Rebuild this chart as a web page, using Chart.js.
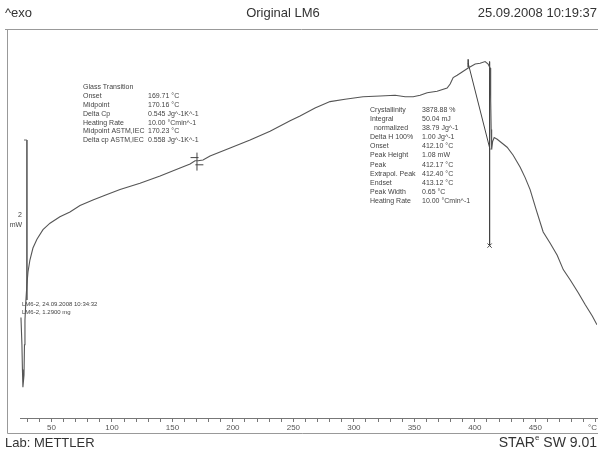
<!DOCTYPE html>
<html>
<head>
<meta charset="utf-8">
<script src="https://cdn.jsdelivr.net/npm/chart.js@4.4.0/dist/chart.umd.min.js"></script>
<style>
  body { margin: 0; background: #fff; }
  #wrap { width: 598px; height: 450px; }
</style>
</head>
<body>
<div id="wrap"><canvas id="myChart" width="598" height="450"></canvas></div>
<script>
// DSC curve: temperature (°C) and heat flow (mW, exo up)
const temps = [24.8, 25.6, 26.0, 26.4, 27.3, 27.7, 28.1, 28.9, 29.7, 30.6, 32.2, 34.7, 38.0, 43.0, 48.8,
    57.0, 65.3, 73.6, 84.3, 94.3, 106.7, 123.2, 139.8, 156.3, 164.6, 168.7, 171.2, 175.3, 181.1, 197.7,
    214.2, 230.7, 247.3, 255.5, 267.9, 280.3, 292.7, 307.6, 321.7, 334.1, 342.4, 349.0, 354.8, 360.6,
    368.8, 377.1, 379.6, 382.1, 385.4, 389.5, 394.5, 400.3, 404.4, 408.5, 411.0, 412.6, 413.1, 413.5,
    413.9, 414.7, 416.0, 418.5, 422.6, 426.7, 431.7, 437.5, 441.6, 445.7, 450.7, 456.5, 462.3, 468.1,
    473.1, 478.9, 485.5, 491.3, 497.1, 501.0];
const heatFlow = [1.03, 0.69, 0.38, 0.16, 0.31, 0.69, 1.00, 1.25, 1.44, 1.60, 1.75, 1.90, 2.01, 2.13, 2.21,
    2.29, 2.35, 2.43, 2.50, 2.56, 2.63, 2.71, 2.80, 2.90, 2.95, 2.99, 2.99, 3.00, 3.05, 3.15,
    3.25, 3.36, 3.49, 3.55, 3.65, 3.73, 3.76, 3.79, 3.80, 3.81, 3.79, 3.79, 3.81, 3.84,
    3.86, 3.90, 3.95, 4.03, 4.06, 4.10, 4.15, 4.20, 4.21, 4.23, 4.20, 4.15, 3.75, 3.38,
    3.13, 3.23, 3.28, 3.26, 3.21, 3.16, 3.06, 2.91, 2.78, 2.63, 2.38, 2.10, 1.96, 1.81,
    1.63, 1.50, 1.34, 1.19, 1.05, 0.94];

// axis
const xMin = 24, xMax = 501;
const labeledTicks = [50, 100, 150, 200, 250, 300, 350, 400, 450];
const unitTick = 500;

// evaluation marks
const tangentLine = [{ x: 394.5, y: 4.21 }, { x: 412.6, y: 3.13 }];
const peakLine = [{ x: 412.2, y: 4.23 }, { x: 412.2, y: 1.93 }];
const scaleBar = [{ x: 27.3, y: 3.25 }, { x: 29.7, y: 3.25 }, { x: 29.7, y: 1.25 }];
const glassMarks = [{ x: 170.3, y: 2.98 }, { x: 168.3, y: 3.03 }, { x: 172.3, y: 2.94 }];

// result tables
const glassLabels = ['Glass Transition', 'Onset', 'Midpoint', 'Delta Cp', 'Heating Rate', 'Midpoint ASTM,IEC', 'Delta cp ASTM,IEC'];
const glassValues = ['', '169.71 °C', '170.16 °C', '0.545 Jg^-1K^-1', '10.00 °Cmin^-1', '170.23 °C', '0.558 Jg^-1K^-1'];
const crystLabels = ['Crystallinity', 'Integral', '  normalized', 'Delta H 100%', 'Onset', 'Peak Height', 'Peak',
    'Extrapol. Peak', 'Endset', 'Peak Width', 'Heating Rate'];
const crystValues = ['3878.88 %', '50.04 mJ', '38.79 Jg^-1', '1.00 Jg^-1', '412.10 °C', '1.08 mW', '412.17 °C',
    '412.40 °C', '413.12 °C', '0.65 °C', '10.00 °Cmin^-1'];
const sampleLines = ['LM6-2, 24.09.2008 10:34:32', 'LM6-2, 1.2900 mg'];

const ink = '#444';

const sheet = {
    id: 'sheet',
    afterDraw(chart) {
        const ctx = chart.ctx;
        ctx.save();
        // frame
        ctx.strokeStyle = '#999';
        ctx.lineWidth = 1;
        ctx.beginPath();
        ctx.moveTo(5, 29.5); ctx.lineTo(598, 29.5);
        ctx.moveTo(7.5, 29.5); ctx.lineTo(7.5, 433.5);
        ctx.moveTo(7.5, 433.5); ctx.lineTo(598, 433.5);
        ctx.stroke();

        // header and footer
        ctx.fillStyle = '#333';
        ctx.textBaseline = 'alphabetic';
        ctx.font = '13px "Liberation Sans"';
        ctx.textAlign = 'left';
        ctx.fillText('^exo', 5, 17);
        ctx.textAlign = 'center';
        ctx.fillText('Original LM6', 283, 17);
        ctx.textAlign = 'right';
        ctx.fillText('25.09.2008 10:19:37', 597, 17);
        ctx.textAlign = 'left';
        ctx.fillText('Lab: METTLER', 5, 447);
        ctx.font = '14px "Liberation Sans"';
        ctx.textAlign = 'right';
        const tail = ' SW 9.01';
        ctx.fillText(tail, 597, 447);
        const tw = ctx.measureText(tail).width;
        ctx.font = '8px "Liberation Sans"';
        ctx.fillText('e', 597 - tw, 440);
        const ew = ctx.measureText('e').width;
        ctx.font = '14px "Liberation Sans"';
        ctx.fillText('STAR', 597 - tw - ew, 447);

        // result tables
        ctx.fillStyle = ink;
        ctx.font = '7px "Liberation Sans"';
        ctx.textAlign = 'left';
        ctx.textBaseline = 'middle';
        glassLabels.forEach((t, i) => {
            ctx.fillText(t, 83, 87 + i * 8.9);
            ctx.fillText(glassValues[i], 148, 87 + i * 8.9);
        });
        crystLabels.forEach((t, i) => {
            ctx.fillText(t, 370, 110 + i * 9.1);
            ctx.fillText(crystValues[i], 422, 110 + i * 9.1);
        });
        ctx.font = '6px "Liberation Sans"';
        sampleLines.forEach((t, i) => ctx.fillText(t, 22, 304 + i * 8.5));

        // scale bar label
        ctx.font = '7px "Liberation Sans"';
        ctx.textAlign = 'center';
        ctx.fillText('2', 20, 215);
        ctx.fillText('mW', 16, 225);
        ctx.restore();
    }
};

const markStyle = { borderColor: ink, backgroundColor: ink, borderWidth: 1, pointRadius: 0, showLine: true };

new Chart(document.getElementById('myChart'), {
    type: 'scatter',
    data: {
        datasets: [
            {
                data: temps.map((t, i) => ({ x: t, y: heatFlow[i] })),
                showLine: true, borderColor: '#555', borderWidth: 1.1, pointRadius: 0, tension: 0
            },
            Object.assign({ data: tangentLine }, markStyle),
            Object.assign({ data: peakLine }, markStyle),
            Object.assign({ data: scaleBar }, markStyle, { borderColor: '#666' }),
            {
                data: glassMarks, showLine: false, pointStyle: 'line',
                pointRadius: [9, 4, 4], pointRotation: [90, 0, 0],
                borderColor: ink, pointBorderWidth: 1
            },
            {
                data: [tangentLine[0]], showLine: false, pointStyle: 'line',
                pointRadius: 4, pointRotation: 90, borderColor: ink, pointBorderWidth: 1.5
            },
            {
                data: [peakLine[1]], showLine: false, pointStyle: 'crossRot',
                pointRadius: 3, borderColor: ink, pointBorderWidth: 1
            }
        ]
    },
    options: {
        responsive: false,
        animation: false,
        events: [],
        // autoPadding would reserve room for the big marker points and squeeze the plot
        layout: { autoPadding: false, padding: { top: 30, left: 20, right: 1, bottom: 18 } },
        plugins: { legend: { display: false }, tooltip: { enabled: false } },
        scales: {
            x: {
                type: 'linear', min: xMin, max: xMax,
                afterBuildTicks: s => {
                    s.ticks = s.ticks.filter(t => t.value >= xMin && t.value <= xMax);
                    s.min = xMin;
                    s.max = xMax;
                },
                afterFit: s => { s.height = 14; s.paddingLeft = 0; s.paddingRight = 0; },
                grid: { drawOnChartArea: false, drawTicks: true, tickLength: 4, color: '#777', lineWidth: 1 },
                border: { display: true, color: '#777', width: 1 },
                ticks: {
                    stepSize: 10, includeBounds: false, autoSkip: false, maxRotation: 0, padding: 1,
                    color: '#555', font: { family: 'Liberation Sans', size: 8 },
                    // trailing spaces pull the unit label back inside the sheet edge
                    callback: v => labeledTicks.includes(v) ? String(v) : (v === unitTick ? '°C   ' : '')
                }
            },
            y: { type: 'linear', display: false, min: -0.225, max: 4.625 }
        }
    },
    plugins: [sheet]
});
</script>
</body>
</html>
